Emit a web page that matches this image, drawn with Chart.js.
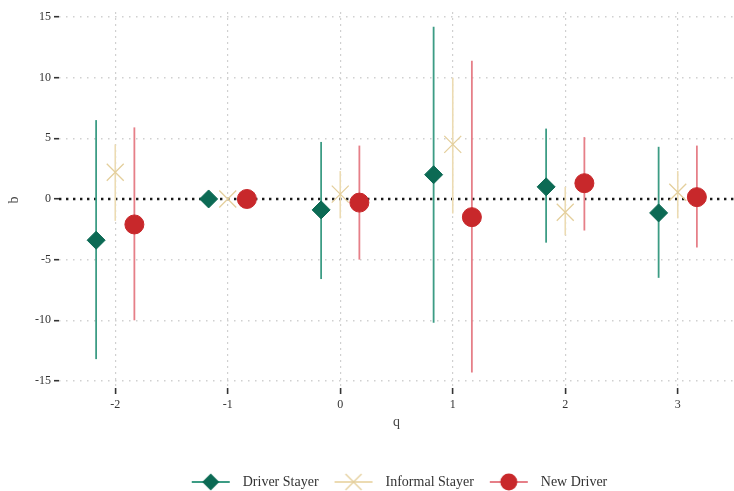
<!DOCTYPE html>
<html>
<head>
<meta charset="utf-8">
<script src="https://cdn.jsdelivr.net/npm/chart.js@4/dist/chart.umd.min.js"></script>
<style>
  html, body { margin: 0; padding: 0; background: #ffffff; }
  #wrap { width: 734px; height: 491px; }
</style>
</head>
<body>
<div id="wrap"><canvas id="c" width="734" height="491"></canvas></div>
<script>
// Event-time categories (q) and axis ticks
const qValues = [-2, -1, 0, 1, 2, 3];
const yTicks = [-15, -10, -5, 0, 5, 10, 15];
const seriesNames = ['Driver Stayer', 'Informal Stayer', 'New Driver'];

// Point estimates and confidence bounds per group
const driverEst = [-3.4, 0, -0.9, 2.0, 1.0, -1.15];
const driverLo  = [-13.2, 0, -6.6, -10.2, -3.6, -6.5];
const driverHi  = [6.5, 0, 4.7, 14.2, 5.8, 4.3];

const informalEst = [2.2, 0, 0.4, 4.5, -1.1, 0.55];
const informalLo  = [-1.8, 0, -1.6, -1.2, -3.0, -1.6];
const informalHi  = [4.5, 0, 2.3, 10.0, 1.0, 2.3];

const newEst = [-2.1, 0, -0.3, -1.5, 1.3, 0.15];
const newLo  = [-10.0, 0, -5.0, -14.3, -2.6, -4.0];
const newHi  = [5.9, 0, 4.4, 11.4, 5.1, 4.4];

// Horizontal dodge between the three groups (in q units)
const dodge = 0.17;

const serif = "'Liberation Serif', 'DejaVu Serif', serif";
const colors = {
  driver:   { mark: '#0c6a54', bar: '#3c9c84' },
  informal: { mark: '#e4cf9c', bar: '#ecdbb2' },
  newDrv:   { mark: '#c8282b', bar: '#e67f88' }
};

function pts(est, off) {
  return qValues.map((q, i) => ({ x: q + off, y: est[i] }));
}

// Draws a legend key: a short line with the group's marker in the middle
function makeIcon(kind, lineColor, markColor) {
  const cv = document.createElement('canvas');
  cv.width = 40; cv.height = 20;
  const g = cv.getContext('2d');
  g.strokeStyle = lineColor; g.lineWidth = 2;
  g.beginPath(); g.moveTo(1, 10); g.lineTo(39, 10); g.stroke();
  g.fillStyle = markColor; g.strokeStyle = markColor;
  if (kind === 'diamond') {
    g.beginPath(); g.moveTo(20, 1.5); g.lineTo(28.5, 10); g.lineTo(20, 18.5); g.lineTo(11.5, 10); g.closePath(); g.fill();
  } else if (kind === 'x') {
    g.lineWidth = 1.3; g.beginPath();
    g.moveTo(12, 2); g.lineTo(28, 18); g.moveTo(28, 2); g.lineTo(12, 18); g.stroke();
  } else {
    g.beginPath(); g.arc(20, 10, 8.5, 0, Math.PI * 2); g.fill();
  }
  return cv;
}
const icons = [
  makeIcon('diamond', colors.driver.bar, colors.driver.mark),
  makeIcon('x', colors.informal.bar, colors.informal.mark),
  makeIcon('circle', colors.newDrv.bar, colors.newDrv.mark)
];

// Dotted zero reference line plus vertical interval bars behind the markers
const intervalPlugin = {
  id: 'intervals',
  beforeDatasetsDraw(chart) {
    const { ctx, chartArea, scales: { x, y } } = chart;
    ctx.save();
    const y0 = y.getPixelForValue(0);
    ctx.strokeStyle = '#1a1a1a';
    ctx.lineWidth = 2.6;
    ctx.setLineDash([2.4, 4.6]);
    ctx.beginPath(); ctx.moveTo(chartArea.left, y0); ctx.lineTo(chartArea.right, y0); ctx.stroke();
    ctx.setLineDash([]);
    chart.data.datasets.forEach((ds) => {
      ctx.strokeStyle = ds.barColor;
      ctx.lineWidth = ds.barWidth;
      ds.data.forEach((p, i) => {
        if (ds.lo[i] === ds.hi[i]) return;
        const px = x.getPixelForValue(p.x);
        ctx.beginPath();
        ctx.moveTo(px, y.getPixelForValue(ds.lo[i]));
        ctx.lineTo(px, y.getPixelForValue(ds.hi[i]));
        ctx.stroke();
      });
    });
    ctx.restore();
  }
};

new Chart(document.getElementById('c'), {
  type: 'scatter',
  data: {
    datasets: [
      {
        label: seriesNames[0], data: pts(driverEst, -dodge), lo: driverLo, hi: driverHi,
        barColor: colors.driver.bar, barWidth: 1.8,
        pointStyle: 'rectRot', pointRadius: 9, backgroundColor: colors.driver.mark,
        borderColor: colors.driver.mark, borderWidth: 1
      },
      {
        label: seriesNames[1], data: pts(informalEst, 0), lo: informalLo, hi: informalHi,
        barColor: colors.informal.bar, barWidth: 1.6,
        pointStyle: 'crossRot', pointRadius: 12, backgroundColor: colors.informal.mark,
        borderColor: colors.informal.mark, borderWidth: 1.3
      },
      {
        label: seriesNames[2], data: pts(newEst, dodge), lo: newLo, hi: newHi,
        barColor: colors.newDrv.bar, barWidth: 1.8,
        pointStyle: 'circle', pointRadius: 9.5, backgroundColor: colors.newDrv.mark,
        borderColor: colors.newDrv.mark, borderWidth: 1
      }
    ]
  },
  options: {
    responsive: false,
    devicePixelRatio: 1,
    animation: false,
    events: [],
    layout: { autoPadding: false, padding: { top: 12, right: 0, bottom: -8, left: 0 } },
    scales: {
      x: {
        type: 'linear', min: -2.5, max: 3.5,
        afterBuildTicks: (s) => { s.ticks = qValues.map((v) => ({ value: v })); },
        afterFit: (s) => { s.height = 77; },
        ticks: { font: { family: serif, size: 12 }, color: '#333', padding: 4, callback: (v) => String(v) },
        grid: { color: '#d0d0d0', lineWidth: 1.2, tickColor: '#333', tickLength: 6, tickWidth: 1.6 },
        border: { display: false, dash: [2, 4] },
        title: { display: true, text: 'q', font: { family: serif, size: 14 }, color: '#444', padding: { top: 0, bottom: 34 } }
      },
      y: {
        type: 'linear', min: -15.58, max: 15.41,
        afterBuildTicks: (s) => { s.ticks = yTicks.map((v) => ({ value: v })); },
        afterFit: (s) => { s.width = 59; },
        ticks: { font: { family: serif, size: 12 }, color: '#333', padding: 3 },
        grid: { color: '#d0d0d0', lineWidth: 1.4, tickColor: '#333', tickLength: 5, tickWidth: 1.6 },
        border: { display: false, dash: [1.5, 5.5] },
        title: { display: true, text: 'b', font: { family: serif, size: 14 }, color: '#444', padding: { top: 6, bottom: 0 } }
      }
    },
    plugins: {
      tooltip: { enabled: false },
      legend: {
        position: 'bottom',
        fullSize: false,
        labels: {
          usePointStyle: true,
          pointStyleWidth: 50,
          padding: 10,
          font: { family: serif, size: 14 },
          color: '#333',
          generateLabels: (chart) => chart.data.datasets.map((ds, i) => ({
            text: ds.label, pointStyle: icons[i], fontColor: '#333', hidden: false,
            datasetIndex: i, lineWidth: 0, strokeStyle: 'rgba(0,0,0,0)', fillStyle: 'rgba(0,0,0,0)'
          }))
        }
      }
    }
  },
  plugins: [intervalPlugin]
});
</script>
</body>
</html>
